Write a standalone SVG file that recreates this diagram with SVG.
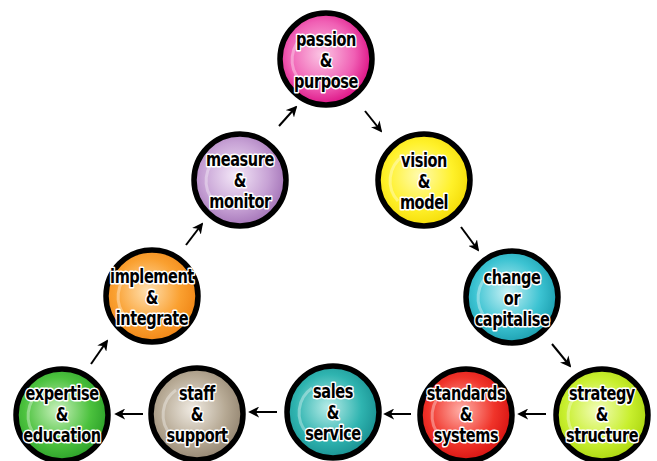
<svg xmlns="http://www.w3.org/2000/svg" width="657" height="461" viewBox="0 0 657 461">
<style>
.ring{stroke:#000;stroke-width:5.5}
.t{font-family:"DejaVu Sans Condensed","Liberation Sans Narrow","Liberation Sans",sans-serif;font-weight:bold;font-size:19px;text-anchor:middle;fill:#000;stroke:#fff;stroke-width:3;paint-order:stroke;stroke-linejoin:round;letter-spacing:-0.5px}
.hl{fill:none;stroke:#fff;stroke-opacity:0.35;stroke-width:3}
.c{stroke:#000;stroke-width:2;fill:none;marker-end:url(#ah)}
</style>
<defs>
<marker id="ah" viewBox="0 0 12 12" refX="10" refY="6" markerWidth="11" markerHeight="11" orient="auto" markerUnits="userSpaceOnUse">
<path d="M0,0 L12,6 L0,12 L3.5,6 Z" fill="#000"/>
</marker>
<radialGradient id="gPink" cx="0.45" cy="0.45" r="0.6"><stop offset="0" stop-color="#fbc6e4"/><stop offset="0.6" stop-color="#f05fb4"/><stop offset="1" stop-color="#d8007a"/></radialGradient>
<radialGradient id="gYel" cx="0.45" cy="0.45" r="0.6"><stop offset="0" stop-color="#fffbb0"/><stop offset="0.6" stop-color="#fff12a"/><stop offset="1" stop-color="#f2d800"/></radialGradient>
<radialGradient id="gCyan" cx="0.45" cy="0.45" r="0.6"><stop offset="0" stop-color="#c8f1f5"/><stop offset="0.6" stop-color="#3cc3d2"/><stop offset="1" stop-color="#1597a8"/></radialGradient>
<radialGradient id="gLime" cx="0.45" cy="0.45" r="0.6"><stop offset="0" stop-color="#f2fdb8"/><stop offset="0.6" stop-color="#c8ef2e"/><stop offset="1" stop-color="#a6d20a"/></radialGradient>
<radialGradient id="gRed" cx="0.45" cy="0.45" r="0.6"><stop offset="0" stop-color="#ffb0a8"/><stop offset="0.6" stop-color="#f0342a"/><stop offset="1" stop-color="#d30d0d"/></radialGradient>
<radialGradient id="gTeal" cx="0.45" cy="0.45" r="0.6"><stop offset="0" stop-color="#b8ece8"/><stop offset="0.6" stop-color="#2fb4b0"/><stop offset="1" stop-color="#158a8c"/></radialGradient>
<radialGradient id="gTaupe" cx="0.45" cy="0.45" r="0.6"><stop offset="0" stop-color="#f0ebe3"/><stop offset="0.6" stop-color="#b6a994"/><stop offset="1" stop-color="#8e7f6b"/></radialGradient>
<radialGradient id="gGreen" cx="0.45" cy="0.45" r="0.6"><stop offset="0" stop-color="#c8f0bc"/><stop offset="0.6" stop-color="#4cc23e"/><stop offset="1" stop-color="#259a25"/></radialGradient>
<radialGradient id="gOrange" cx="0.45" cy="0.45" r="0.6"><stop offset="0" stop-color="#ffe0b0"/><stop offset="0.6" stop-color="#faa030"/><stop offset="1" stop-color="#ee8010"/></radialGradient>
<radialGradient id="gLav" cx="0.45" cy="0.45" r="0.6"><stop offset="0" stop-color="#f4e8f8"/><stop offset="0.6" stop-color="#c7a2d5"/><stop offset="1" stop-color="#9d6bb2"/></radialGradient>
</defs>

<g id="connectors">
<line class="c" x1="279" y1="126" x2="296" y2="107"/>
<line class="c" x1="365" y1="111" x2="381" y2="131"/>
<line class="c" x1="461" y1="227" x2="478" y2="250"/>
<line class="c" x1="552" y1="344" x2="570" y2="366"/>
<line class="c" x1="546" y1="414" x2="519" y2="414"/>
<line class="c" x1="411" y1="414" x2="385" y2="414"/>
<line class="c" x1="277" y1="412" x2="250" y2="412"/>
<line class="c" x1="143" y1="414" x2="116" y2="414"/>
<line class="c" x1="91" y1="364" x2="107" y2="341"/>
<line class="c" x1="186" y1="245" x2="202" y2="224"/>
</g>

<g id="passion">
<circle class="ring" cx="326" cy="59" r="46" fill="url(#gPink)"/>
<path class="hl" d="M300,80 A30,30 0 0 1 305,35"/>
<g transform="translate(326,0) scale(0.85,1)"><text class="t" x="0" y="46">passion</text><text class="t" x="0" y="67">&amp;</text><text class="t" x="0" y="88">purpose</text></g>
</g>
<g id="vision">
<circle class="ring" cx="424" cy="180" r="46" fill="url(#gYel)"/>
<path class="hl" d="M398,201 A30,30 0 0 1 403,156"/>
<g transform="translate(424,0) scale(0.85,1)"><text class="t" x="0" y="167">vision</text><text class="t" x="0" y="188">&amp;</text><text class="t" x="0" y="209">model</text></g>
</g>
<g id="change">
<circle class="ring" cx="512" cy="297" r="46" fill="url(#gCyan)"/>
<path class="hl" d="M486,318 A30,30 0 0 1 491,273"/>
<g transform="translate(512,0) scale(0.85,1)"><text class="t" x="0" y="284">change</text><text class="t" x="0" y="305">or</text><text class="t" x="0" y="326">capitalise</text></g>
</g>
<g id="strategy">
<circle class="ring" cx="602" cy="415" r="46" fill="url(#gLime)"/>
<path class="hl" d="M576,436 A30,30 0 0 1 581,391"/>
<g transform="translate(602,0) scale(0.85,1)"><text class="t" x="0" y="400">strategy</text><text class="t" x="0" y="421">&amp;</text><text class="t" x="0" y="442">structure</text></g>
</g>
<g id="standards">
<circle class="ring" cx="466" cy="415" r="46" fill="url(#gRed)"/>
<path class="hl" d="M440,436 A30,30 0 0 1 445,391"/>
<g transform="translate(466,0) scale(0.85,1)"><text class="t" x="0" y="400">standards</text><text class="t" x="0" y="421">&amp;</text><text class="t" x="0" y="442">systems</text></g>
</g>
<g id="sales">
<circle class="ring" cx="333" cy="412" r="46" fill="url(#gTeal)"/>
<path class="hl" d="M307,433 A30,30 0 0 1 312,388"/>
<g transform="translate(333,0) scale(0.85,1)"><text class="t" x="0" y="398">sales</text><text class="t" x="0" y="419">&amp;</text><text class="t" x="0" y="440">service</text></g>
</g>
<g id="staff">
<circle class="ring" cx="197" cy="414" r="46" fill="url(#gTaupe)"/>
<path class="hl" d="M171,435 A30,30 0 0 1 176,390"/>
<g transform="translate(197,0) scale(0.85,1)"><text class="t" x="0" y="400">staff</text><text class="t" x="0" y="421">&amp;</text><text class="t" x="0" y="442">support</text></g>
</g>
<g id="expertise">
<circle class="ring" cx="62" cy="415" r="46" fill="url(#gGreen)"/>
<path class="hl" d="M36,436 A30,30 0 0 1 41,391"/>
<g transform="translate(62,0) scale(0.85,1)"><text class="t" x="0" y="400">expertise</text><text class="t" x="0" y="421">&amp;</text><text class="t" x="0" y="442">education</text></g>
</g>
<g id="implement">
<circle class="ring" cx="152" cy="296" r="46" fill="url(#gOrange)"/>
<path class="hl" d="M126,317 A30,30 0 0 1 131,272"/>
<g transform="translate(152,0) scale(0.85,1)"><text class="t" x="0" y="283">implement</text><text class="t" x="0" y="304">&amp;</text><text class="t" x="0" y="325">integrate</text></g>
</g>
<g id="measure">
<circle class="ring" cx="240" cy="180" r="46" fill="url(#gLav)"/>
<path class="hl" d="M214,201 A30,30 0 0 1 219,156"/>
<g transform="translate(240,0) scale(0.85,1)"><text class="t" x="0" y="166">measure</text><text class="t" x="0" y="187">&amp;</text><text class="t" x="0" y="208">monitor</text></g>
</g>
</svg>
